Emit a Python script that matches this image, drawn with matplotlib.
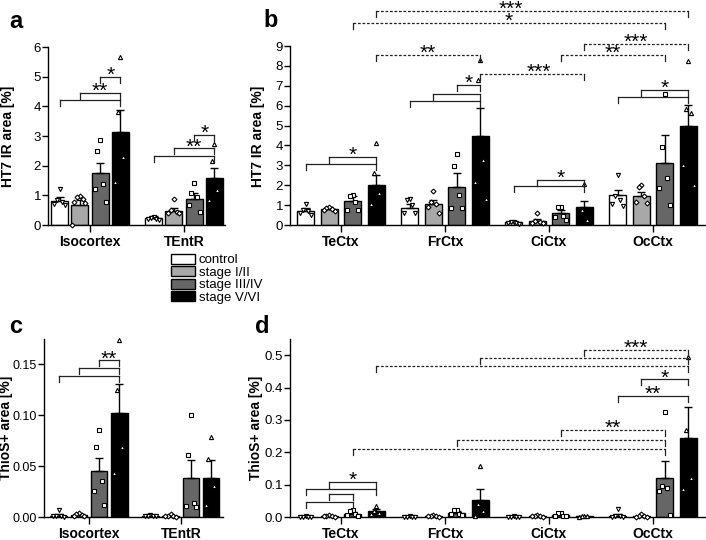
import numpy as np
import matplotlib
matplotlib.use('Agg')
from matplotlib import pyplot as plt
from matplotlib.patches import Patch

plt.rcParams['font.family'] = ['Liberation Sans', 'DejaVu Sans']

# groups / colours
stages = ['control', 'stage I/II', 'stage III/IV', 'stage V/VI']
colors = ['white', '#a8a8a8', '#666666', 'black']
markers = ['v', 'D', 's', '^']

# (a) HT7 IR area, Isocortex / TEntR
a_regions = ['Isocortex', 'TEntR']
a_mean = [[0.80, 0.67, 1.74, 3.12], [0.22, 0.48, 0.86, 1.57]]
a_err = [[0.16, 0.17, 0.36, 0.75], [0.08, 0.08, 0.21, 0.36]]
a_pts = [[[1.22, 0.84, 0.76, 0.70, 0.66], [0.99, 0.95, 0.86, 0.78, 0.74, 0.0],
          [2.86, 2.49, 1.37, 1.22, 0.76], [5.66, 3.81, 2.30, 1.46]],
         [[0.27, 0.24, 0.21, 0.19, 0.17], [0.87, 0.50, 0.45, 0.42, 0.40],
          [1.40, 1.07, 0.95, 0.67, 0.45], [2.72, 2.15, 1.18, 0.84]]]

# (b) HT7 IR area, cortical regions
b_regions = ['TeCtx', 'FrCtx', 'CiCtx', 'OcCtx']
b_mean = [[0.72, 0.80, 1.19, 1.99], [0.85, 1.07, 1.90, 4.47],
          [0.13, 0.20, 0.58, 0.92], [1.49, 1.47, 3.14, 4.97]]
b_err = [[0.13, 0.13, 0.25, 0.53], [0.22, 0.20, 0.70, 1.39],
         [0.08, 0.10, 0.19, 0.27], [0.25, 0.18, 1.38, 1.06]]
b_pts = [[[1.07, 0.75, 0.68, 0.60, 0.52], [0.90, 0.85, 0.80, 0.75, 0.72],
          [1.52, 1.47, 1.17, 0.77, 0.75], [4.14, 2.60, 1.60, 1.07]],
         [[1.32, 1.27, 1.00, 0.62, 0.58], [1.69, 1.17, 1.07, 0.88, 0.62],
          [3.57, 2.97, 1.52, 0.85, 0.85], [8.28, 7.31, 3.27, 2.14, 1.30]],
         [[0.17, 0.13, 0.10, 0.08, 0.06], [0.60, 0.20, 0.15, 0.10, 0.08],
          [0.92, 0.88, 0.47, 0.40, 0.25], [2.05, 0.77, 0.27]],
         [[2.52, 1.44, 1.27, 1.07, 0.98], [1.99, 1.89, 1.44, 1.17, 1.12],
          [6.58, 3.94, 2.35, 1.85, 1.02], [8.23, 5.81, 5.61, 3.02, 1.99]]]

# (c) ThioS+ area, Isocortex / TEntR
c_mean = [[0.0013, 0.0016, 0.045, 0.102], [0.0012, 0.0012, 0.0384, 0.0384]]
c_err = [[0.0012, 0.0008, 0.013, 0.029], [0.0004, 0.0007, 0.018, 0.0175]]
c_pts = [[[0.0072, 0.0010, 0.0008, 0.0005, 0.0003], [0.0036, 0.0030, 0.0020, 0.0012, 0.0008],
          [0.0853, 0.0686, 0.0351, 0.0253, 0.0121], [0.1736, 0.125, 0.069, 0.043]],
         [[0.0015, 0.0012, 0.0010, 0.0008, 0.0005], [0.0033, 0.0012, 0.0008, 0.0005, 0.0003],
          [0.1007, 0.0614, 0.0138, 0.0105, 0.0095], [0.079, 0.057, 0.030, 0.012]]]

# (d) ThioS+ area, cortical regions
d_mean = [[0.0015, 0.003, 0.010, 0.0175], [0.0012, 0.003, 0.012, 0.052],
          [0.0012, 0.003, 0.005, 0.002], [0.004, 0.003, 0.12, 0.244]]
d_err = [[0.0005, 0.001, 0.005, 0.007], [0.0005, 0.001, 0.005, 0.033],
         [0.0004, 0.001, 0.002, 0.001], [0.004, 0.0015, 0.052, 0.095]]
d_pts = [[[0.002, 0.0015, 0.0012, 0.001, 0.001], [0.006, 0.004, 0.003, 0.002, 0.001],
          [0.023, 0.018, 0.008, 0.005, 0.004], [0.033, 0.018, 0.012, 0.010]],
         [[0.002, 0.0015, 0.001, 0.001, 0.001], [0.006, 0.004, 0.003, 0.002, 0.001],
          [0.023, 0.021, 0.010, 0.008, 0.005], [0.157, 0.040, 0.020, 0.003]],
         [[0.002, 0.0015, 0.001, 0.001, 0.001], [0.006, 0.004, 0.003, 0.002, 0.001],
          [0.012, 0.011, 0.004, 0.003, 0.002], [0.004, 0.003, 0.002, 0.001]],
         [[0.025, 0.003, 0.002, 0.001, 0.001], [0.008, 0.004, 0.002, 0.001, 0.001],
          [0.324, 0.095, 0.090, 0.079, 0.007], [0.494, 0.27, 0.12, 0.085]]]

# significance brackets: (region1, stage1, region2, stage2, y, label, dashed, label shift)
a_sig = [(0, 0, 0, 3, 4.20, '', False, 0), (0, 1, 0, 3, 4.45, '**', False, 0),
         (0, 2, 0, 3, 4.99, '*', False, 0),
         (1, 0, 1, 3, 2.32, '', False, 0), (1, 1, 1, 3, 2.58, '**', False, 0),
         (1, 2, 1, 3, 3.05, '*', False, 0)]
b_sig = [(0, 0, 0, 3, 3.07, '', False, 0), (0, 1, 0, 3, 3.44, '*', False, 0),
         (1, 0, 1, 3, 6.23, '', False, 0), (1, 1, 1, 3, 6.61, '', False, 0),
         (1, 2, 1, 3, 7.06, '*', False, 0),
         (2, 0, 2, 3, 1.97, '', False, 0), (2, 1, 2, 3, 2.27, '*', False, 0),
         (3, 0, 3, 3, 6.44, '', False, 0), (3, 1, 3, 3, 6.81, '*', False, 0),
         (0, 3, 1, 3, 8.56, '**', True, 0), (1, 3, 2, 3, 7.61, '***', True, 0.06),
         (2, 2, 3, 2, 8.56, '**', True, 0), (2, 3, 3, 3, 9.10, '***', True, 0),
         (0, 2, 3, 2, 10.15, '*', True, 0), (0, 3, 3, 3, 10.75, '***', True, -0.21)]
c_sig = [(0, 0, 0, 3, 0.1385, '', False, 0), (0, 1, 0, 3, 0.1467, '', False, 0),
         (0, 2, 0, 3, 0.154, '**', False, 0)]
d_sig = [(0, 0, 0, 2, 0.045, '', False, 0), (0, 1, 0, 2, 0.071, '', False, 0),
         (0, 0, 0, 3, 0.085, '', False, 0), (0, 1, 0, 3, 0.108, '*', False, 0),
         (3, 0, 3, 3, 0.373, '**', False, 0), (3, 1, 3, 3, 0.425, '*', False, 0),
         (0, 2, 3, 2, 0.21, '', True, 0), (1, 2, 3, 2, 0.237, '', True, 0),
         (2, 2, 3, 2, 0.27, '**', True, 0),
         (0, 3, 3, 3, 0.466, '', True, 0), (1, 3, 3, 3, 0.492, '', True, 0),
         (2, 3, 3, 3, 0.5175, '***', True, 0)]

W, H = 706, 540
fig = plt.figure(figsize=(W / 100, H / 100), dpi=100)


def spread(n, width):
    order = [0, -1, 1, -2, 2, -3, 3]
    return [order[i] * width * 0.16 for i in range(n)]


def panel(rect, regions, mean, err, pts, sig, ylim, yticks, yfmt, xlim, step, width, tfs=9.5):
    ax = fig.add_axes([rect[0] / W, 1 - rect[3] / H, (rect[2] - rect[0]) / W, (rect[3] - rect[1]) / H])
    pos = lambda g, s: g + (s - 1.5) * step
    for g in range(len(regions)):
        for s in range(4):
            x = pos(g, s)
            ax.bar(x, mean[g][s], width, color=colors[s], edgecolor='black', linewidth=1, zorder=1)
            ax.errorbar(x, mean[g][s], yerr=[[0], [err[g][s]]], fmt='none', ecolor='black',
                        elinewidth=1, capsize=3, capthick=1, zorder=2)
            p = pts[g][s]
            ms = 2.5 if markers[s] == 'D' else 3.0
            ax.plot(np.array(spread(len(p), width)) + x, p, linestyle='none', marker=markers[s],
                    ms=ms, mfc='white', mec='black', mew=0.8, zorder=3, clip_on=False)
    drop = 6 / (rect[3] - rect[1]) * (ylim[1] - ylim[0])
    for g1, s1, g2, s2, y, lab, dashed, shift in sig:
        x1, x2 = pos(g1, s1), pos(g2, s2)
        ax.plot([x1, x2], [y, y], color='#222222', lw=0.9, clip_on=False,
                linestyle=(0, (2.2, 1.4)) if dashed else '-', zorder=4)
        ax.plot([x1, x1], [y - drop, y], color='#222222', lw=0.9, clip_on=False, zorder=4)
        ax.plot([x2, x2], [y - drop, y], color='#222222', lw=0.9, clip_on=False, zorder=4)
        if lab:
            ax.annotate(lab, xy=((x1 + x2) / 2 + shift, y), xytext=(0, -4), textcoords='offset pixels',
                        ha='center', va='baseline', fontsize=15, annotation_clip=False)
    ax.set_xlim(xlim)
    ax.set_ylim(ylim)
    ax.set_yticks(yticks)
    ax.set_yticklabels([yfmt % t for t in yticks], fontsize=tfs)
    ax.set_xticks(range(len(regions)))
    ax.set_xticklabels(regions, fontsize=10, fontweight='bold')
    ax.tick_params(axis='y', length=4, width=1, pad=1)
    ax.tick_params(axis='x', length=5, width=1, pad=2)
    for sp in ['top', 'right']:
        ax.spines[sp].set_visible(False)
    for sp in ['left', 'bottom']:
        ax.spines[sp].set_linewidth(1)
    return ax


panel((48, 47, 225, 225), a_regions, a_mean, a_err, a_pts, a_sig, (0, 6), range(7), '%d',
      (-0.447, 1.436), 0.216, 0.18)
panel((290, 46, 705, 225), b_regions, b_mean, b_err, b_pts, b_sig, (0, 9), range(10), '%d',
      (-0.49, 3.5), 0.226, 0.163)
panel((44, 339, 223, 517), a_regions, c_mean, c_err, c_pts, c_sig, (0, 0.175),
      [0, 0.05, 0.10, 0.15], '%.2f', (-0.49, 1.46), 0.22, 0.18, tfs=9)
panel((290, 339, 705, 517), b_regions, d_mean, d_err, d_pts, d_sig, (0, 0.55),
      [0, 0.1, 0.2, 0.3, 0.4, 0.5], '%.1f', (-0.49, 3.5), 0.226, 0.163)

# y labels and panel letters
for x, y, t in [(8.5, 136, 'HT7 IR area [%]'), (258, 136, 'HT7 IR area [%]'),
                (6.5, 428, 'ThioS+ area [%]'), (256, 428, 'ThioS+ area [%]')]:
    fig.text(x / W, 1 - y / H, t, rotation=90, ha='center', va='center', fontsize=10, fontweight='bold')
for x, y, t in [(9, 28, 'a'), (263, 27, 'b'), (9, 333, 'c'), (255, 333, 'd')]:
    fig.text(x / W, 1 - y / H, t, ha='left', va='baseline', fontsize=17, fontweight='bold')

handles = [Patch(facecolor=c, edgecolor='black', linewidth=1) for c in colors]
fig.legend(handles, stages, loc='upper left', bbox_to_anchor=(171 / W, 1 - 254 / H), frameon=False,
           fontsize=9.5, handlelength=1.8, handleheight=0.75, handletextpad=0.3, labelspacing=0.0,
           borderpad=0, borderaxespad=0)

plt.savefig('out.png', dpi=100)
